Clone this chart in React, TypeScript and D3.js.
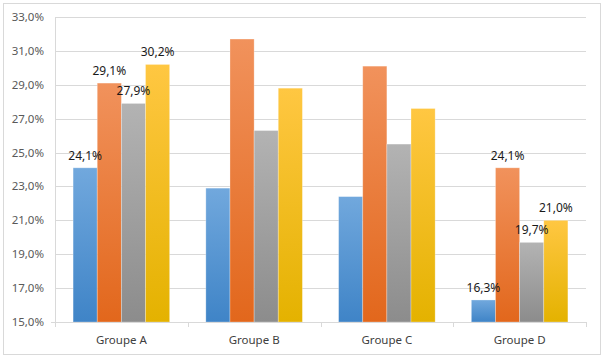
import { useEffect } from "react";
import * as d3 from "d3";

const groups = ["Groupe A", "Groupe B", "Groupe C", "Groupe D"];
const seriesNames = ["S1", "S2", "S3", "S4"];
const s1 = [24.1, 22.9, 22.4, 16.3];
const s2 = [29.1, 31.7, 30.1, 24.1];
const s3 = [27.9, 26.3, 25.5, 19.7];
const s4 = [30.2, 28.8, 27.6, 21.0];
const yTicks = [15, 17, 19, 21, 23, 25, 27, 29, 31, 33];
// only groups A and D carry data labels in the original
const labelledGroups = ["Groupe A", "Groupe D"];

const seriesValues = [s1, s2, s3, s4];
const gradients = [
  ["#71a8dd", "#3f84c7"],
  ["#f1925c", "#e2671c"],
  ["#b3b3b3", "#8c8c8c"],
  ["#ffc742", "#e4b200"],
];

const W = 605;
const H = 359;
const margin = { top: 17, right: 19, bottom: 37, left: 55 };
const fmt = (v: number) => v.toFixed(1).replace(".", ",") + "%";

export default function App() {
  useEffect(() => {
    document.body.style.margin = "0";
  }, []);

  const x0 = d3
    .scaleBand()
    .domain(groups)
    .range([margin.left, W - margin.right])
    .paddingInner(0)
    .paddingOuter(0);
  const x1 = d3
    .scaleBand()
    .domain(seriesNames)
    .range([0, x0.bandwidth()])
    .paddingOuter(0.75 / 1)
    .paddingInner(0);
  const y = d3
    .scaleLinear()
    .domain([15, 33])
    .range([H - margin.bottom, margin.top]);

  const font = "'Noto Sans', 'Liberation Sans', sans-serif";
  const bottom = y(15);

  return (
    <svg width={W} height={H} style={{ display: "block" }}>
      <defs>
        {gradients.map((g, i) => (
          <linearGradient key={i} id={`grad${i}`} x1="0" y1="0" x2="0" y2="1">
            <stop offset="0%" stopColor={g[0]} />
            <stop offset="100%" stopColor={g[1]} />
          </linearGradient>
        ))}
      </defs>
      <rect x={3.5} y={3.5} width={597} height={351} fill="#fff" stroke="#d9d9d9" />

      {/* grid lines */}
      {yTicks.map((t) => (
        <line
          key={t}
          x1={margin.left}
          x2={W - margin.right}
          y1={Math.round(y(t)) + 0.5}
          y2={Math.round(y(t)) + 0.5}
          stroke="#d9d9d9"
        />
      ))}

      {/* y tick labels */}
      {yTicks.map((t) => (
        <text
          key={t}
          x={44}
          y={y(t) + 4}
          textAnchor="end"
          fontFamily={font}
          fontSize="11.5px"
          fill="#595959"
        >
          {fmt(t)}
        </text>
      ))}

      {/* bars */}
      {groups.map((g, gi) => (
        <g key={g} transform={`translate(${x0(g)},0)`}>
          {seriesNames.map((s, si) => {
            const v = seriesValues[si][gi];
            return (
              <rect
                key={s}
                x={x1(s)}
                y={y(v)}
                width={x1.bandwidth()}
                height={bottom - y(v)}
                fill={`url(#grad${si})`}
                stroke="#ffffff"
                strokeOpacity={0.35}
                strokeWidth={0.8}
              />
            );
          })}
        </g>
      ))}

      {/* data labels */}
      {groups
        .filter((g) => labelledGroups.includes(g))
        .map((g) => {
          const gi = groups.indexOf(g);
          return seriesNames.map((s, si) => {
            const v = seriesValues[si][gi];
            return (
              <text
                key={g + s}
                x={(x0(g) as number) + (x1(s) as number) + x1.bandwidth() / 2}
                y={y(v) - 8}
                textAnchor="middle"
                fontFamily={font}
                fontSize="12px"
                fill="#1a1a1a"
              >
                {fmt(v)}
              </text>
            );
          });
        })}

      {/* axes */}
      <line
        x1={margin.left + 0.5}
        x2={margin.left + 0.5}
        y1={margin.top}
        y2={bottom}
        stroke="#d9d9d9"
      />
      <line x1={margin.left - 4} x2={margin.left} y1={Math.round(bottom) + 0.5} y2={Math.round(bottom) + 0.5} stroke="#d9d9d9" />
      <line
        x1={margin.left}
        x2={W - margin.right}
        y1={Math.round(bottom) + 0.5}
        y2={Math.round(bottom) + 0.5}
        stroke="#d9d9d9"
      />
      {[...groups.map((g) => x0(g) as number), W - margin.right].map((xv, i) => (
        <line
          key={i}
          x1={Math.round(xv) + 0.5}
          x2={Math.round(xv) + 0.5}
          y1={bottom}
          y2={bottom + 5}
          stroke="#d9d9d9"
        />
      ))}

      {/* category labels */}
      {groups.map((g) => (
        <text
          key={g}
          x={(x0(g) as number) + x0.bandwidth() / 2}
          y={344}
          textAnchor="middle"
          fontFamily={font}
          fontSize="11.5px"
          fill="#404040"
        >
          {g}
        </text>
      ))}
    </svg>
  );
}
